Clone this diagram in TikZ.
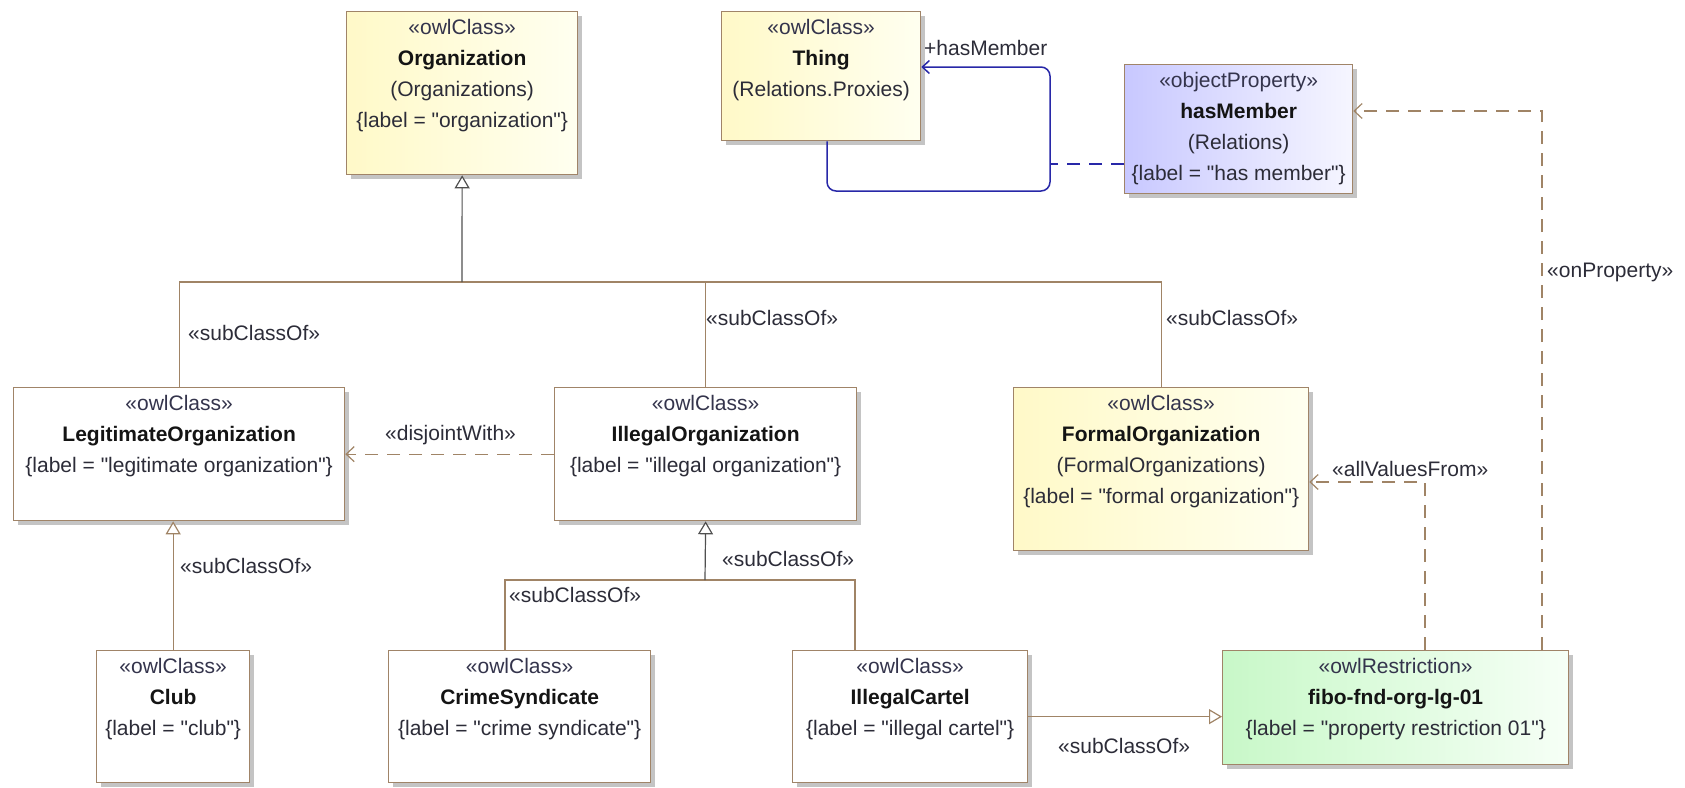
\documentclass[tikz,border=0pt]{standalone}
\usepackage{fontspec}
\setmainfont{Liberation Sans}[Ligatures=TeXOff]
\usetikzlibrary{arrows.meta,shadows}
\definecolor{brd}{HTML}{A08468}
\definecolor{lnk}{HTML}{A08466}
\definecolor{trunkc}{HTML}{505050}
\definecolor{assocc}{HTML}{2828A8}
\definecolor{stc}{HTML}{34344C}
\definecolor{namec}{HTML}{141414}
\definecolor{subc}{HTML}{2C2C38}
\definecolor{shd}{HTML}{C4C4C4}
\newcommand{\st}[1]{{\color{stc}«#1»}}
\newcommand{\nm}[1]{{\color{namec}\bfseries #1}}
\newcommand{\dq}{\char34\relax}
\begin{document}
\begin{tikzpicture}[x=1pt,y=-1pt,
  umlbox/.style={draw=brd, line width=1.3pt, inner sep=0pt, anchor=north west,
    drop shadow={shadow xshift=4pt,shadow yshift=-4pt,fill=shd,opacity=1}},
  yel/.style={left color={rgb,255:red,255;green,249;blue,200}, right color={rgb,255:red,255;green,255;blue,240}},
  lav/.style={left color={rgb,255:red,200;green,200;blue,255}, right color={rgb,255:red,246;green,246;blue,255}},
  grn/.style={left color={rgb,255:red,200;green,248;blue,200}, right color={rgb,255:red,246;green,255;blue,246}},
  wht/.style={fill=white},
  boxtext/.style={anchor=north, inner sep=0pt, align=center, font=\fontsize{21}{31}\selectfont, text=subc},
  lbl/.style={inner sep=0pt, font=\fontsize{21}{25}\selectfont, text=subc},
  gen/.style={draw=lnk, line width=1.2pt, -{Triangle[open,length=13pt,width=15pt,fill=white]}},
  genplain/.style={draw=lnk, line width=1.1pt},
  trunk/.style={draw=trunkc, line width=1.2pt, -{Triangle[open,length=13pt,width=15pt,fill=white]}},
  dep/.style={draw=lnk, line width=1.2pt, dash pattern=on 13pt off 9pt, -{Straight Barb[length=8pt,width=15pt]}},
  assoc/.style={draw=assocc, line width=1.5pt},
]
\useasboundingbox (0,0) rectangle (1685,787);

% boxes
\node[umlbox, yel, minimum width=231pt, minimum height=163pt] (org) at (346,11) {};
\node[umlbox, yel, minimum width=199pt, minimum height=129pt] (thing) at (721,11) {};
\node[umlbox, lav, minimum width=228pt, minimum height=129pt] (hm) at (1124,64) {};
\node[umlbox, wht, minimum width=331pt, minimum height=133pt] (legit) at (13,387) {};
\node[umlbox, wht, minimum width=302pt, minimum height=133pt] (ill) at (554,387) {};
\node[umlbox, yel, minimum width=295pt, minimum height=163pt] (formal) at (1013,387) {};
\node[umlbox, wht, minimum width=153pt, minimum height=132pt] (club) at (96,650) {};
\node[umlbox, wht, minimum width=262pt, minimum height=132pt] (crime) at (388,650) {};
\node[umlbox, wht, minimum width=235pt, minimum height=132pt] (cartel) at (792,650) {};
\node[umlbox, grn, minimum width=346pt, minimum height=114pt] (fibo) at (1222,650) {};

% box texts
\node[boxtext] (orgT) at ([yshift=-8.5pt]org.north) {\st{owlClass}\\ \nm{Organization}\\ (Organizations)\\ \{label = \dq organization\dq\}};
\node[boxtext] (thingT) at ([yshift=-8.5pt]thing.north) {\st{owlClass}\\ \nm{Thing}\\ (Relations.Proxies)};
\node[boxtext] (hmT) at ([yshift=-8.5pt]hm.north) {\st{objectProperty}\\ \nm{hasMember}\\ (Relations)\\ \{label = \dq has member\dq\}};
\node[boxtext] (legitT) at ([yshift=-8.5pt]legit.north) {\st{owlClass}\\ \nm{LegitimateOrganization}\\ \{label = \dq legitimate organization\dq\}};
\node[boxtext] (illT) at ([yshift=-8.5pt]ill.north) {\st{owlClass}\\ \nm{IllegalOrganization}\\ \{label = \dq illegal organization\dq\}};
\node[boxtext] (formalT) at ([yshift=-8.5pt]formal.north) {\st{owlClass}\\ \nm{FormalOrganization}\\ (FormalOrganizations)\\ \{label = \dq formal organization\dq\}};
\node[boxtext] (clubT) at ([yshift=-8.5pt]club.north) {\st{owlClass}\\ \nm{Club}\\ \{label = \dq club\dq\}};
\node[boxtext] (crimeT) at ([yshift=-8.5pt]crime.north) {\st{owlClass}\\ \nm{CrimeSyndicate}\\ \{label = \dq crime syndicate\dq\}};
\node[boxtext] (cartelT) at ([yshift=-8.5pt]cartel.north) {\st{owlClass}\\ \nm{IllegalCartel}\\ \{label = \dq illegal cartel\dq\}};
\node[boxtext] (fiboT) at ([yshift=-8.5pt]fibo.north) {\st{owlRestriction}\\ \nm{fibo-fnd-org-lg-01}\\ \{label = \dq property restriction 01\dq\}};

% coordinates
\coordinate (j1) at (462,282);
\coordinate (j2) at (705,580);
\coordinate (cd) at (505,580);
\coordinate (kd) at (855,580);
\coordinate (av) at (1425,482);
\coordinate (op) at (1542,111);
\coordinate (bx) at (827,191);
\coordinate (br) at (1050,67);
\coordinate (bd) at (1050,164);

% generalizations to Organization
\draw[genplain] (legit.north) |- (formal.north |- j1) -- (formal.north);
\draw[genplain] (ill.north) -- (ill.north |- j1);
\draw[trunk] (j1) -- (org.south);

% Club -> Legit
\draw[gen] (club.north) -- (club.north |- legit.south);

% Crime, Cartel -> Illegal
\draw[genplain] (crime.north -| cd) -- (cd) -- (kd) -- (cartel.north -| kd);
\draw[trunk] (j2) -- (ill.south);

% Cartel -> fibo
\draw[gen] (cartel.east) -- (cartel.east -| fibo.west);

% disjoint
\draw[dep] (ill.west) -- (ill.west -| legit.east);

% allValuesFrom, onProperty
\draw[dep] (fibo.north -| av) |- (formal.east |- av);
\draw[dep] (fibo.north -| op) |- (hm.east |- op);

% association loop
\draw[assoc, rounded corners=9pt, -{Straight Barb[length=7pt,width=13pt]}]
  (thing.south -| bx) -- (bx) -| (br) -- (br -| thing.east);
\draw[assoc, dash pattern=on 13pt off 9pt] (hm.west |- bd) -- (bd);

% labels
\node[lbl, anchor=west] (l1) at (924,48) {+hasMember};
\node[lbl, anchor=west] (l2) at (188,333) {«subClassOf»};
\node[lbl, anchor=west] (l3) at (706,318) {«subClassOf»};
\node[lbl, anchor=west] (l4) at (1166,318) {«subClassOf»};
\node[lbl, anchor=west] (l5) at (385,435) {«disjointWith»};
\node[lbl, anchor=west] (l6) at (180,566) {«subClassOf»};
\node[lbl, anchor=west] (l7) at (722,559) {«subClassOf»};
\node[lbl, anchor=west] (l8) at (509,595) {«subClassOf»};
\node[lbl, anchor=west] (l9) at (1058,746) {«subClassOf»};
\node[lbl, anchor=west] (l10) at (1332,469) {«allValuesFrom»};
\node[lbl, anchor=west] (l11) at (1547,272) {«onProperty»};
\end{tikzpicture}
\end{document}
